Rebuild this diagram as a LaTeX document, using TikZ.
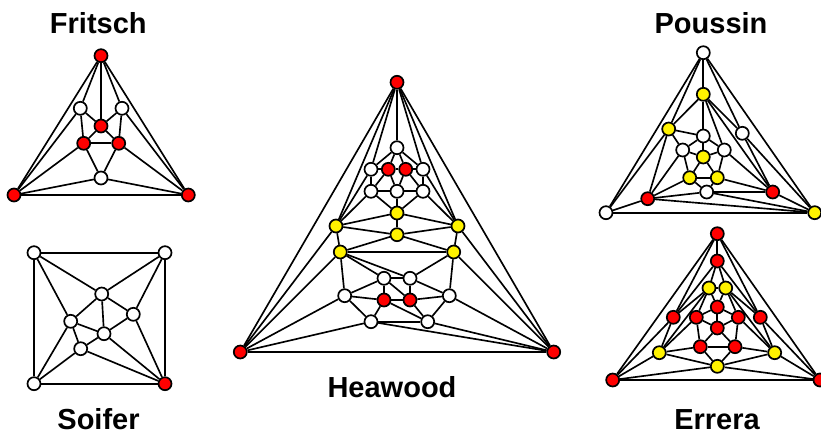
\documentclass[tikz,border=0pt]{standalone}
\usepackage{fontspec}
\setmainfont{Liberation Sans}
\tikzset{
  vtx/.style={circle,draw=black,line width=1.7pt,minimum size=13pt,inner sep=0pt},
  wv/.style={vtx,fill=white},
  rv/.style={vtx,fill=red},
  yv/.style={vtx,fill=yellow},
  edgeline/.style={draw=black,line width=1.65pt},
  title/.style={font=\fontsize{29}{33}\selectfont\bfseries,inner sep=0pt,anchor=base}
}
\newcommand{\joinall}[2]{\foreach \a/\b in {#2}{\draw[edgeline] (#1\a) -- (#1\b);}}
\begin{document}
\begin{tikzpicture}[x=1pt,y=-1pt]
\useasboundingbox (0,0) rectangle (821,432);
% Fritsch
\node[rv] (FT) at (101,55.7) {};
\node[rv] (FL) at (14,195) {};
\node[rv] (FR) at (188.3,195) {};
\node[wv] (Fa) at (80.3,108.3) {};
\node[wv] (Fb) at (122,108.3) {};
\node[rv] (Fc) at (101,126) {};
\node[rv] (Fd) at (83.7,143.3) {};
\node[rv] (Fe) at (118.7,143.3) {};
\node[wv] (Ff) at (101,178) {};
\joinall{F}{T/L,T/R,L/R,T/a,T/b,T/c,a/L,b/R,a/c,b/c,a/d,b/e,c/d,c/e,d/e,d/f,e/f,d/L,e/R,f/L,f/R}
% Soifer
\node[wv] (SA) at (34,252.7) {};
\node[wv] (SB) at (165,252.7) {};
\node[wv] (SC) at (34,383.7) {};
\node[rv] (SD) at (165,383.7) {};
\node[wv] (Sa) at (101.7,294) {};
\node[wv] (Sb) at (133.3,314.3) {};
\node[wv] (Sc) at (70.7,321.3) {};
\node[wv] (Sd) at (104,333.7) {};
\node[wv] (Se) at (80.7,348.7) {};
\joinall{S}{A/B,A/C,B/D,C/D,A/a,B/a,A/c,B/b,a/b,a/c,a/d,b/d,c/d,c/e,d/e,b/D,d/D,e/D,c/C,e/C}
% Heawood
\node[rv] (HT) at (397,82.3) {};
\node[rv] (HL) at (240.3,352) {};
\node[rv] (HR) at (553.7,352) {};
\node[wv] (Ha) at (397,147.7) {};
\node[wv] (Hb) at (371,169.3) {};
\node[rv] (Hp) at (388.3,169.3) {};
\node[rv] (Hq) at (405.7,169.3) {};
\node[wv] (Hc) at (423,169.3) {};
\node[wv] (Hd) at (371,191.3) {};
\node[wv] (He) at (397,191.3) {};
\node[wv] (Hf) at (423,191.3) {};
\node[yv] (Hs) at (397,213) {};
\node[yv] (Ht) at (336,226) {};
\node[yv] (Hu) at (458,226) {};
\node[yv] (Hv) at (397,234.7) {};
\node[yv] (Hw) at (340.3,252) {};
\node[yv] (Hx) at (453.7,252) {};
\node[wv] (Hg) at (384,278.3) {};
\node[wv] (Hh) at (410,278.3) {};
\node[wv] (Hi) at (344.7,295.7) {};
\node[rv] (Hm) at (384,300) {};
\node[rv] (Hn) at (410,300) {};
\node[wv] (Hj) at (449.3,295.7) {};
\node[wv] (Hk) at (371,321.7) {};
\node[wv] (Hl) at (427.7,321.7) {};
\joinall{H}{T/L,T/R,L/R,T/a,T/b,T/c,T/t,T/u,L/t,L/w,L/i,L/k,R/u,R/x,R/j,R/l,R/k,
a/b,a/c,a/p,a/q,b/p,p/q,q/c,b/d,c/f,p/d,q/f,p/e,q/e,d/e,e/f,e/s,d/s,f/s,
s/t,s/u,s/v,t/v,u/v,v/w,v/x,t/w,u/x,w/x,w/i,x/j,w/g,w/h,x/h,g/h,g/i,h/j,g/m,h/n,
i/m,m/n,n/j,i/k,j/l,m/k,n/l,k/l,m/l,g/n,t/b,t/d,u/c,u/f}
% Poussin
\node[wv] (PT) at (703.3,52.7) {};
\node[wv] (PL) at (606,212.7) {};
\node[yv] (PR) at (814.7,212.7) {};
\node[yv] (Pa) at (703.3,94.3) {};
\node[yv] (Pb) at (668.7,129) {};
\node[wv] (Pc) at (742.3,133.3) {};
\node[wv] (Pd) at (703.3,136) {};
\node[wv] (Pe) at (682.7,150) {};
\node[wv] (Pf) at (724.3,150) {};
\node[yv] (Pg) at (703.3,157) {};
\node[yv] (Ph) at (689.7,177.7) {};
\node[yv] (Pi) at (717.3,177.7) {};
\node[wv] (Pj) at (706.7,192) {};
\node[rv] (Pk) at (647.7,198.7) {};
\node[rv] (Pl) at (772.7,192) {};
\joinall{P}{T/L,T/R,L/R,T/a,T/b,T/c,b/L,c/R,L/k,k/R,k/b,k/e,k/h,k/j,a/b,a/d,a/f,a/c,a/l,c/l,l/R,l/f,l/i,l/j,j/R,
b/d,b/e,d/e,d/f,d/g,e/g,f/g,e/h,f/i,g/h,g/i,h/i,h/j,i/j}
% Errera
\node[rv] (ET) at (717.3,233.7) {};
\node[rv] (EL) at (612.7,380) {};
\node[rv] (ER) at (820,380) {};
\node[rv] (Ea) at (717.3,261) {};
\node[yv] (Eb) at (709,288) {};
\node[yv] (Ec) at (725.7,288) {};
\node[rv] (Ed) at (673.3,317.3) {};
\node[rv] (Ee) at (760.3,317.3) {};
\node[rv] (Ef) at (717.3,307) {};
\node[rv] (Eg) at (696.3,317.3) {};
\node[rv] (Eh) at (738.3,317.3) {};
\node[rv] (Ei) at (717.3,328) {};
\node[rv] (Ej) at (700.3,346.7) {};
\node[rv] (Ek) at (735,346.7) {};
\node[yv] (El) at (659.3,352.7) {};
\node[yv] (Em) at (774.7,352.7) {};
\node[yv] (En) at (717.3,366.3) {};
\joinall{E}{T/L,T/R,L/R,T/a,T/d,T/e,L/d,R/e,L/l,R/m,L/n,R/n,l/d,m/e,l/n,m/n,l/j,m/k,j/n,k/n,j/k,j/g,k/h,j/i,k/i,g/i,h/i,f/i,f/g,f/h,f/b,f/c,b/c,a/b,a/c,g/b,h/c,g/l,h/m,b/l,c/m,b/d,c/e,a/d,a/e}
% Titles
\node[title] (t1) at (98.3,33.3) {Fritsch};
\node[title] (t2) at (98.5,429) {Soifer};
\node[title] (t3) at (392,397) {Heawood};
\node[title] (t4) at (711,33.3) {Poussin};
\node[title] (t5) at (717,429) {Errera};
\end{tikzpicture}
\end{document}
